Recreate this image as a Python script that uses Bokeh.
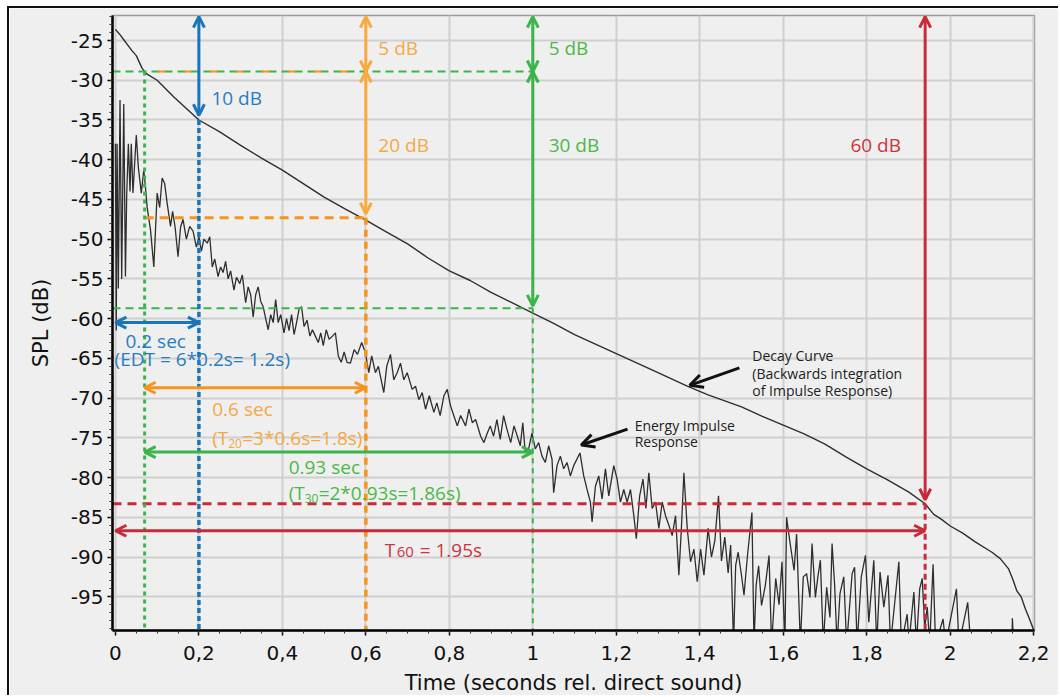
from bokeh.plotting import figure
from bokeh.models import Range1d, FixedTicker, CustomJSTickFormatter, Arrow, OpenHead
from bokeh.core.properties import value
from bokeh.embed import file_html
from bokeh.resources import INLINE

# ---------------- data ----------------
decay_t = [0.0, 0.01, 0.02, 0.03, 0.04, 0.05, 0.064, 0.075, 0.1, 0.14, 0.2, 0.25, 0.3, 0.35,
           0.4, 0.45, 0.5, 0.55, 0.6, 0.65, 0.7, 0.75, 0.8, 0.85, 0.9, 0.95, 1.0, 1.05, 1.1,
           1.15, 1.2, 1.25, 1.3, 1.37, 1.42, 1.5, 1.55, 1.6, 1.65, 1.7, 1.75, 1.8, 1.85, 1.9,
           1.94, 1.96, 1.98, 2.0, 2.03, 2.06, 2.1, 2.12, 2.14, 2.15, 2.16, 2.17, 2.18, 2.19, 2.2]
decay_db = [-23.6, -24.2, -24.9, -25.6, -26.3, -26.9, -28.5, -29.2, -30.0, -32.1, -35.0, -36.5,
            -38.2, -39.8, -41.3, -43.0, -44.7, -46.2, -47.6, -49.1, -50.6, -52.4, -54.0, -55.2,
            -56.7, -58.0, -59.3, -60.6, -62.0, -63.2, -64.4, -65.6, -66.8, -68.5, -69.6, -71.1,
            -72.3, -73.4, -74.5, -75.8, -77.4, -78.9, -80.3, -81.8, -83.3, -84.6, -85.3, -86.1,
            -87.0, -88.1, -89.4, -90.2, -91.5, -92.8, -94.3, -95.0, -96.5, -97.8, -99.2]

ir_t = [0.000, 0.002, 0.004, 0.007, 0.011, 0.015, 0.020, 0.024, 0.027, 0.031, 0.035, 0.038,
        0.042, 0.050, 0.055, 0.062, 0.068, 0.072, 0.076, 0.084, 0.092, 0.100, 0.106, 0.112,
        0.118, 0.124, 0.132, 0.137, 0.143, 0.150, 0.156, 0.162, 0.170, 0.178, 0.186, 0.194,
        0.200, 0.206, 0.212, 0.220, 0.226, 0.232, 0.238, 0.246, 0.252, 0.258, 0.264, 0.270,
        0.276, 0.284, 0.290, 0.298, 0.304, 0.312, 0.318, 0.324, 0.330, 0.336, 0.342, 0.348,
        0.354, 0.360, 0.366, 0.372, 0.378, 0.384, 0.390, 0.396, 0.404, 0.410, 0.416, 0.422,
        0.428, 0.434, 0.440, 0.446, 0.452, 0.459, 0.466, 0.472, 0.479, 0.486, 0.492, 0.498,
        0.505, 0.512, 0.520, 0.527, 0.534, 0.541, 0.548, 0.555, 0.563, 0.572, 0.580, 0.590,
        0.599, 0.607, 0.614, 0.623, 0.630, 0.643, 0.650, 0.659, 0.667, 0.675, 0.683, 0.691,
        0.699, 0.711, 0.719, 0.727, 0.735, 0.743, 0.752, 0.763, 0.770, 0.778, 0.787, 0.795,
        0.803, 0.819, 0.827, 0.839, 0.847, 0.855, 0.863, 0.875, 0.883, 0.891, 0.898, 0.906,
        0.914, 0.922, 0.930, 0.938, 0.947, 0.955, 0.963, 0.970, 0.976, 0.982, 0.990, 0.998,
        1.006, 1.014, 1.022, 1.030, 1.038, 1.046, 1.050, 1.058, 1.066, 1.074, 1.082, 1.090,
        1.098, 1.113, 1.122, 1.130, 1.138, 1.142, 1.150, 1.158, 1.166, 1.174, 1.182, 1.194,
        1.202, 1.210, 1.218, 1.226, 1.234, 1.242, 1.248, 1.256, 1.264, 1.271, 1.278, 1.286,
        1.294, 1.302, 1.310, 1.318, 1.326, 1.334, 1.342, 1.350, 1.356, 1.362, 1.370, 1.378,
        1.386, 1.394, 1.402, 1.410, 1.420, 1.428, 1.436, 1.445, 1.452, 1.460, 1.468, 1.474,
        1.481, 1.486, 1.492, 1.500, 1.506, 1.514, 1.525, 1.530, 1.535, 1.541, 1.548, 1.557,
        1.566, 1.572, 1.582, 1.590, 1.597, 1.604,
        1.608, 1.616, 1.626, 1.632, 1.641, 1.648, 1.656, 1.664, 1.669, 1.677, 1.683, 1.689,
        1.696, 1.704, 1.712, 1.717, 1.723, 1.729, 1.736, 1.745, 1.752, 1.765, 1.771, 1.777,
        1.787, 1.797, 1.805, 1.817, 1.824, 1.832, 1.841, 1.851, 1.857, 1.877, 1.883, 1.897,
        1.901, 1.913, 1.919, 1.927, 1.933, 1.939, 1.945, 1.951, 1.959, 1.965, 1.983, 1.989,
        2.015, 2.021, 2.037, 2.042, 2.049, 2.148, 2.149, 2.152, 2.200]
ir_db = [-38.0, -61.5, -38.0, -56.2, -32.5, -55.0, -33.0, -54.7, -44.5, -38.0, -44.0, -38.0,
         -44.2, -36.9, -41.0, -44.2, -41.3, -43.5, -46.0, -48.8, -53.5, -44.2, -46.0, -42.3,
         -43.0, -45.5, -48.4, -46.5, -48.5, -52.2, -48.5, -47.5, -50.0, -48.4, -49.0, -51.0,
         -49.7, -51.5, -50.0, -50.5, -49.7, -53.5, -52.5, -54.7, -53.5, -54.2, -52.8, -55.0,
         -54.0, -56.4, -54.8, -55.6, -54.5, -58.0, -56.0, -57.0, -59.8, -57.0, -56.0, -57.8,
         -58.5, -60.0, -61.4, -59.5, -60.5, -57.6, -60.5, -59.5, -61.8, -60.0, -61.5, -59.5,
         -62.0, -60.5, -58.8, -58.5, -61.0, -60.2, -62.2, -61.4, -62.2, -63.0, -61.8, -63.4,
         -61.4, -62.6, -62.2, -61.8, -64.7, -65.5, -64.2, -65.5, -65.6, -63.9, -64.5, -63.0,
         -64.3, -66.8, -64.7, -66.8, -66.0, -69.3, -66.0, -64.5, -67.7, -66.8, -65.6, -67.7,
         -66.8, -68.9, -68.5, -70.2, -69.3, -71.4, -69.7, -71.8, -70.6, -72.2, -69.7, -68.9,
         -71.0, -73.5, -72.2, -73.5, -71.4, -73.1, -72.7, -74.8, -75.6, -74.4, -73.5, -74.8,
         -72.7, -75.2, -72.2, -73.9, -75.6, -73.5, -74.8, -76.0, -73.1, -76.9, -76.4, -74.4,
         -76.4, -75.6, -77.3, -78.1, -76.0, -77.7, -81.9, -78.5, -77.3, -78.9, -78.1, -79.8,
         -78.5, -76.9, -79.8, -81.5, -83.1, -85.6, -81.1, -79.8, -82.7, -78.9, -82.3, -78.5,
         -80.2, -83.1, -81.5, -83.1, -81.5, -84.8, -87.7, -82.3, -80.2, -83.9, -79.4, -83.9,
         -83.1, -86.4, -83.1, -84.8, -86.0, -87.3, -84.8, -92.3, -86.4, -79.4, -86.4, -90.6,
         -89.0, -93.1, -89.0, -92.3, -86.4, -90.0, -88.0, -82.3, -90.5, -87.5, -92.0, -88.5,
         -101.0, -91.1, -89.4, -92.3, -94.8, -90.0, -84.4, -101.0, -93.6, -91.1, -96.1, -93.6,
         -89.8, -101.0, -92.7, -96.0, -90.6, -101.0,
         -85.0, -88.1, -91.7, -87.1, -101.0, -92.5, -92.1, -95.1, -88.3, -95.1, -92.5, -90.4,
         -101.0, -93.8, -97.6, -88.3, -93.4, -101.0, -94.6, -92.5, -101.0, -92.1, -91.3, -101.0,
         -92.5, -89.8, -98.2, -90.4, -101.0, -91.9, -96.3, -92.3, -101.0, -90.6, -101.0, -97.2,
         -101.0, -94.4, -101.0, -94.0, -92.7, -98.9, -96.3, -101.0, -90.9, -101.0, -97.8, -101.0,
         -94.0, -101.0, -97.0, -95.7, -101.0, -101.0, -97.7, -101.0, -101.0]

x_ticks = [0, 0.2, 0.4, 0.6, 0.8, 1.0, 1.2, 1.4, 1.6, 1.8, 2.0, 2.2]
y_ticks = [-25, -30, -35, -40, -45, -50, -55, -60, -65, -70, -75, -80, -85, -90, -95]

# reverberation read-outs
t_m5 = 0.07      # time where decay is 5 dB down
t_edt = 0.2
t_t20 = 0.6
t_t30 = 1.0
t_t60 = 1.94
db_m5 = -28.9
db_edt = -35.0
db_t20 = -47.3
db_t30 = -58.7
db_t60 = -83.3

# ---------------- figure ----------------
X0, X1 = -0.007, 2.202
Y0, Y1 = -99.25, -21.85
p = figure(width=1051, height=689, x_range=Range1d(X0, X1), y_range=Range1d(Y0, Y1),
           output_backend="svg", toolbar_location=None,
           min_border_left=103, min_border_right=26, min_border_top=7, min_border_bottom=67,
           background_fill_color="#efefef", border_fill_color="#efefef",
           outline_line_color="#9a9a9a", outline_line_width=1.5,
           styles={"margin-left": "7px", "margin-top": "6px",
                   "border-left": "2px solid #111", "border-top": "2px solid #111"})

x_minor = [round(i * 0.05, 2) for i in range(45)]
y_minor = list(range(-99, -21))
p.xaxis.ticker = FixedTicker(ticks=x_ticks, minor_ticks=x_minor)
p.yaxis.ticker = FixedTicker(ticks=y_ticks, minor_ticks=y_minor)
p.xaxis.formatter = CustomJSTickFormatter(code="return (Math.round(tick*10)/10).toString().replace('.', ',');")
p.yaxis.formatter = CustomJSTickFormatter(code="return Math.round(tick).toString();")
p.xgrid.ticker = FixedTicker(ticks=x_ticks)
p.ygrid.ticker = FixedTicker(ticks=y_ticks)
for g in (p.xgrid, p.ygrid):
    g.grid_line_color = "#cfcfcf"
    g.grid_line_width = 2

for ax in (p.xaxis, p.yaxis):
    ax.axis_line_color = "#000000"
    ax.axis_line_width = 2.5
    ax.major_tick_line_color = "#000000"
    ax.major_tick_line_width = 1.5
    ax.major_tick_out = 5
    ax.major_tick_in = 0
    ax.minor_tick_line_color = "#333333"
    ax.minor_tick_out = 3
    ax.minor_tick_in = 0
    ax.major_label_text_font = "DejaVu Sans"
    ax.major_label_text_font_size = "20px"
    ax.major_label_text_color = "#111111"
    ax.axis_label_text_font = "DejaVu Sans"
    ax.axis_label_text_font_size = "21px"
    ax.axis_label_text_font_style = "normal"
    ax.axis_label_text_color = "#111111"

p.xaxis.axis_label = "Time (seconds rel. direct sound)"
p.yaxis.axis_label = "SPL (dB)"
p.xaxis.major_label_standoff = 10
p.xaxis.axis_label_standoff = 8
p.yaxis.major_label_standoff = 4
p.yaxis.axis_label_standoff = 15

# colours
BLUE = "#1b75bb"
ORANGE = "#f7941d"
ORANGE_L = "#f8aa3e"
GREEN = "#39b54a"
RED = "#c92a39"

# ---------------- data lines ----------------
p.line(ir_t, ir_db, line_color="#2e2e2e", line_width=1.3)
p.line(decay_t, decay_db, line_color="#2e2e2e", line_width=1.4)

# ---------------- guide lines ----------------
# horizontal dashed
p.segment(x0=[X0, X0], y0=[db_m5, db_t30], x1=[t_t30, t_t30], y1=[db_m5, db_t30],
          line_color=GREEN, line_width=2, line_dash="8 5")
p.segment(x0=[t_m5], y0=[db_m5], x1=[t_t20], y1=[db_m5],
          line_color=ORANGE, line_width=2, line_dash="8 18", line_dash_offset=13)
p.segment(x0=[t_m5], y0=[db_t20], x1=[t_t20], y1=[db_t20],
          line_color=ORANGE, line_width=3, line_dash="9 6")
p.segment(x0=[X0], y0=[db_t60], x1=[t_t60], y1=[db_t60],
          line_color=RED, line_width=3, line_dash="9 6")
# vertical
p.segment(x0=[t_m5], y0=[db_m5], x1=[t_m5], y1=[Y0], line_color=GREEN, line_width=3, line_dash="4 4")
p.segment(x0=[t_edt], y0=[db_edt], x1=[t_edt], y1=[Y0], line_color=BLUE, line_width=3.5, line_dash="5 3")
p.segment(x0=[t_t20], y0=[db_t20], x1=[t_t20], y1=[Y0], line_color=ORANGE, line_width=3.5, line_dash="7 5")
p.segment(x0=[t_t30], y0=[db_t30], x1=[t_t30], y1=[Y0], line_color=GREEN, line_width=2, line_dash="5 5")
p.segment(x0=[t_t60], y0=[db_t60], x1=[t_t60], y1=[Y0], line_color=RED, line_width=3, line_dash="6 4")


def arrow(x0, y0, x1, y1, color, both=True, lw=3, size=11):
    def head():
        return OpenHead(size=size, line_color=color, line_width=lw)
    p.add_layout(Arrow(start=head() if both else None, end=head(),
                       x_start=x0, y_start=y0, x_end=x1, y_end=y1,
                       line_color=color, line_width=lw))


top = -22.0
# vertical level arrows
arrow(t_edt, top, t_edt, db_edt + 0.6, BLUE)
arrow(t_t20, top, t_t20, db_m5, ORANGE_L)
arrow(t_t20, db_m5, t_t20, db_t20 + 0.5, ORANGE_L)
arrow(t_t30, top, t_t30, db_m5, GREEN)
arrow(t_t30, db_m5, t_t30, db_t30 + 0.3, GREEN)
arrow(t_t60, top, t_t60, db_t60 + 0.5, RED)
# horizontal time arrows
arrow(0.0, -60.5, t_edt, -60.5, BLUE)
arrow(t_m5, -68.7, t_t20, -68.7, ORANGE)
arrow(t_m5, -76.8, t_t30, -76.8, GREEN)
arrow(0.0, -86.7, t_t60, -86.7, RED)
# black pointer arrows
arrow(1.495, -66.2, 1.376, -68.4, "#111111", both=False, lw=3, size=13)
arrow(1.227, -73.9, 1.116, -75.9, "#111111", both=False, lw=3, size=13)


def txt(x, y, s, color, size="19px", font="Open Sans", xo=0, yo=0):
    p.text(x=[x], y=[y], text=[s], text_color=color, text_font=value(font),
           text_font_size=size, x_offset=xo, y_offset=yo,
           text_baseline="middle", text_align="left")


ORANGE_T = "#f5a843"
GREEN_T = "#4cb848"
BLUE_T = "#2a7cc2"
RED_T = "#cc3340"

txt(0.23, -32.2, "10 dB", BLUE_T)
txt(0.63, -25.9, "5 dB", ORANGE_T)
txt(0.63, -38.2, "20 dB", ORANGE_T)
txt(1.038, -25.9, "5 dB", GREEN_T)
txt(1.038, -38.2, "30 dB", GREEN_T)
txt(1.761, -38.2, "60 dB", RED_T)

txt(0.024, -62.8, "0.2 sec", BLUE_T)
txt(-0.002, -65.05, "(EDT = 6*0.2s= 1.2s)", BLUE_T)

txt(0.232, -71.35, "0.6 sec", ORANGE_T)
txt(0.232, -75.0, "(T", ORANGE_T)
txt(0.232, -75.0, "20", ORANGE_T, size="12px", xo=16, yo=6)
txt(0.232, -75.0, "=3*0.6s=1.8s)", ORANGE_T, xo=30)

txt(0.415, -78.65, "0.93 sec", GREEN_T)
txt(0.415, -81.9, "(T", GREEN_T)
txt(0.415, -81.9, "30", GREEN_T, size="12px", xo=16, yo=6)
txt(0.415, -81.9, "=2*0.93s=1.86s)", GREEN_T, xo=30)

txt(0.645, -89.1, "T", RED_T)
txt(0.645, -89.1, "60", RED_T, size="15px", xo=12, yo=2)
txt(0.645, -89.1, "= 1.95s", RED_T, xo=35)

DARK = "#222222"
txt(1.526, -64.64, "Decay Curve", DARK, size="14px")
txt(1.526, -66.9, "(Backwards integration", DARK, size="14px")
txt(1.526, -69.05, "of Impulse Response)", DARK, size="14px")
txt(1.244, -73.45, "Energy Impulse", DARK, size="14px")
txt(1.244, -75.47, "Response", DARK, size="14px")

open("out.html", "w").write(file_html(p, INLINE))
